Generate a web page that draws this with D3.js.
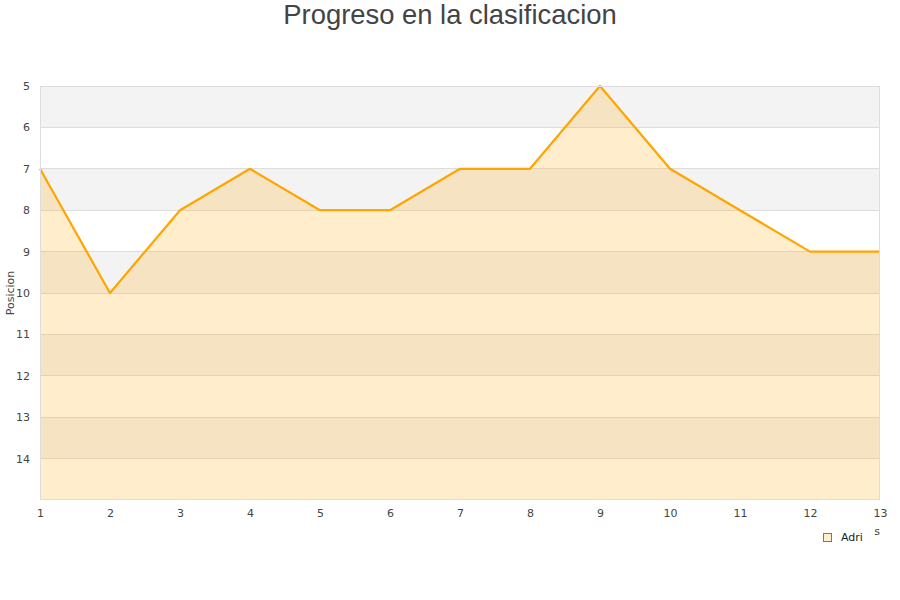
<!DOCTYPE html>
<html><head><meta charset="utf-8">
<script src="https://cdn.jsdelivr.net/npm/d3@7"></script>
<style>body{margin:0;background:#fff}svg{display:block}</style>
</head><body>
<svg id="c" width="900" height="600"></svg>
<script>
const jornadas = [1,2,3,4,5,6,7,8,9,10,11,12,13];
const posiciones = [7,10,8,7,8,8,7,7,5,7,8,9,9];
const yTicks = [5,6,7,8,9,10,11,12,13,14];
const title = "Progreso en la clasificacion";
const seriesName = "Adri";
const yTitle = "Posicion";
const xTitle = "Jornadas";

const svg = d3.select("#c");
const m = {l:40, r:20, t:86, b:100};
const W = 900, H = 600;
const x = d3.scaleLinear().domain([1,13]).range([m.l, W-m.r]);
const y = d3.scaleLinear().domain([5,15]).range([m.t, H-m.b]);

// bands
const bands = d3.range(5,15,2);
svg.append("g").selectAll("rect").data(bands).join("rect")
  .attr("x", x(1)).attr("width", x(13)-x(1))
  .attr("y", d=>y(d)).attr("height", d=>y(d+1)-y(d))
  .attr("fill","#f3f3f3");
// grid
svg.append("g").selectAll("line").data(yTicks.slice(1)).join("line")
  .attr("x1", x(1)).attr("x2", x(13))
  .attr("y1", d=>y(d)).attr("y2", d=>y(d))
  .attr("stroke","#dddddd").attr("stroke-width",1).attr("shape-rendering","crispEdges");

// area
const data = jornadas.map((j,i)=>({j, p:posiciones[i]}));
svg.append("path").datum(data)
  .attr("d", d3.area().x(d=>x(d.j)).y0(y(15)).y1(d=>y(d.p)))
  .attr("fill","rgba(255,165,0,0.2)");
svg.append("path").datum(data)
  .attr("d", d3.line().x(d=>x(d.j)).y(d=>y(d.p)))
  .attr("fill","none").attr("stroke","#ffa500").attr("stroke-width",2.2).attr("stroke-linejoin","round");

// frame
svg.append("rect").attr("x", x(1)+0.5).attr("y", y(5)+0.5)
  .attr("width", x(13)-x(1)-1).attr("height", y(15)-y(5)-1)
  .attr("fill","none").attr("stroke","#dddddd");

// axes
const yAxis = svg.append("g").attr("transform",`translate(${x(1)},0)`)
  .call(d3.axisLeft(y).tickValues(yTicks).tickSize(0).tickPadding(10));
const xAxis = svg.append("g").attr("transform",`translate(0,${y(15)})`)
  .call(d3.axisBottom(x).tickValues(jornadas).tickSize(0).tickPadding(9).tickFormat(d3.format("d")));
[yAxis,xAxis].forEach(a=>{
  a.select(".domain").remove();
  a.selectAll("text").attr("font-family","DejaVu Sans, sans-serif").attr("font-size",11).attr("fill","#444");
});

// titles
svg.append("text").attr("x",450).attr("y",24).attr("text-anchor","middle")
  .attr("font-family","Liberation Sans, Arial, sans-serif").attr("font-size",27.4).attr("fill","#444").text(title);
svg.append("text").attr("transform",`translate(14,${y(10)}) rotate(-90)`).attr("text-anchor","middle")
  .attr("font-family","DejaVu Sans, sans-serif").attr("font-size",11).attr("fill","#444").text(yTitle);
svg.append("text").attr("x",880).attr("y",535).attr("text-anchor","end")
  .attr("font-family","DejaVu Sans, sans-serif").attr("font-size",11).attr("fill","#444").text(xTitle);

// legend
const lg = svg.append("g");
lg.append("rect").attr("x",815).attr("y",527).attr("width",59).attr("height",22).attr("fill","#fff");
lg.append("rect").attr("x",823.5).attr("y",533.5).attr("width",8).attr("height",8)
  .attr("fill","#ffedcc").attr("stroke","#777");
lg.append("text").attr("x",841).attr("y",541).attr("font-family","DejaVu Sans, sans-serif")
  .attr("font-size",11).attr("fill","#222").text(seriesName);
</script>
</body></html>
